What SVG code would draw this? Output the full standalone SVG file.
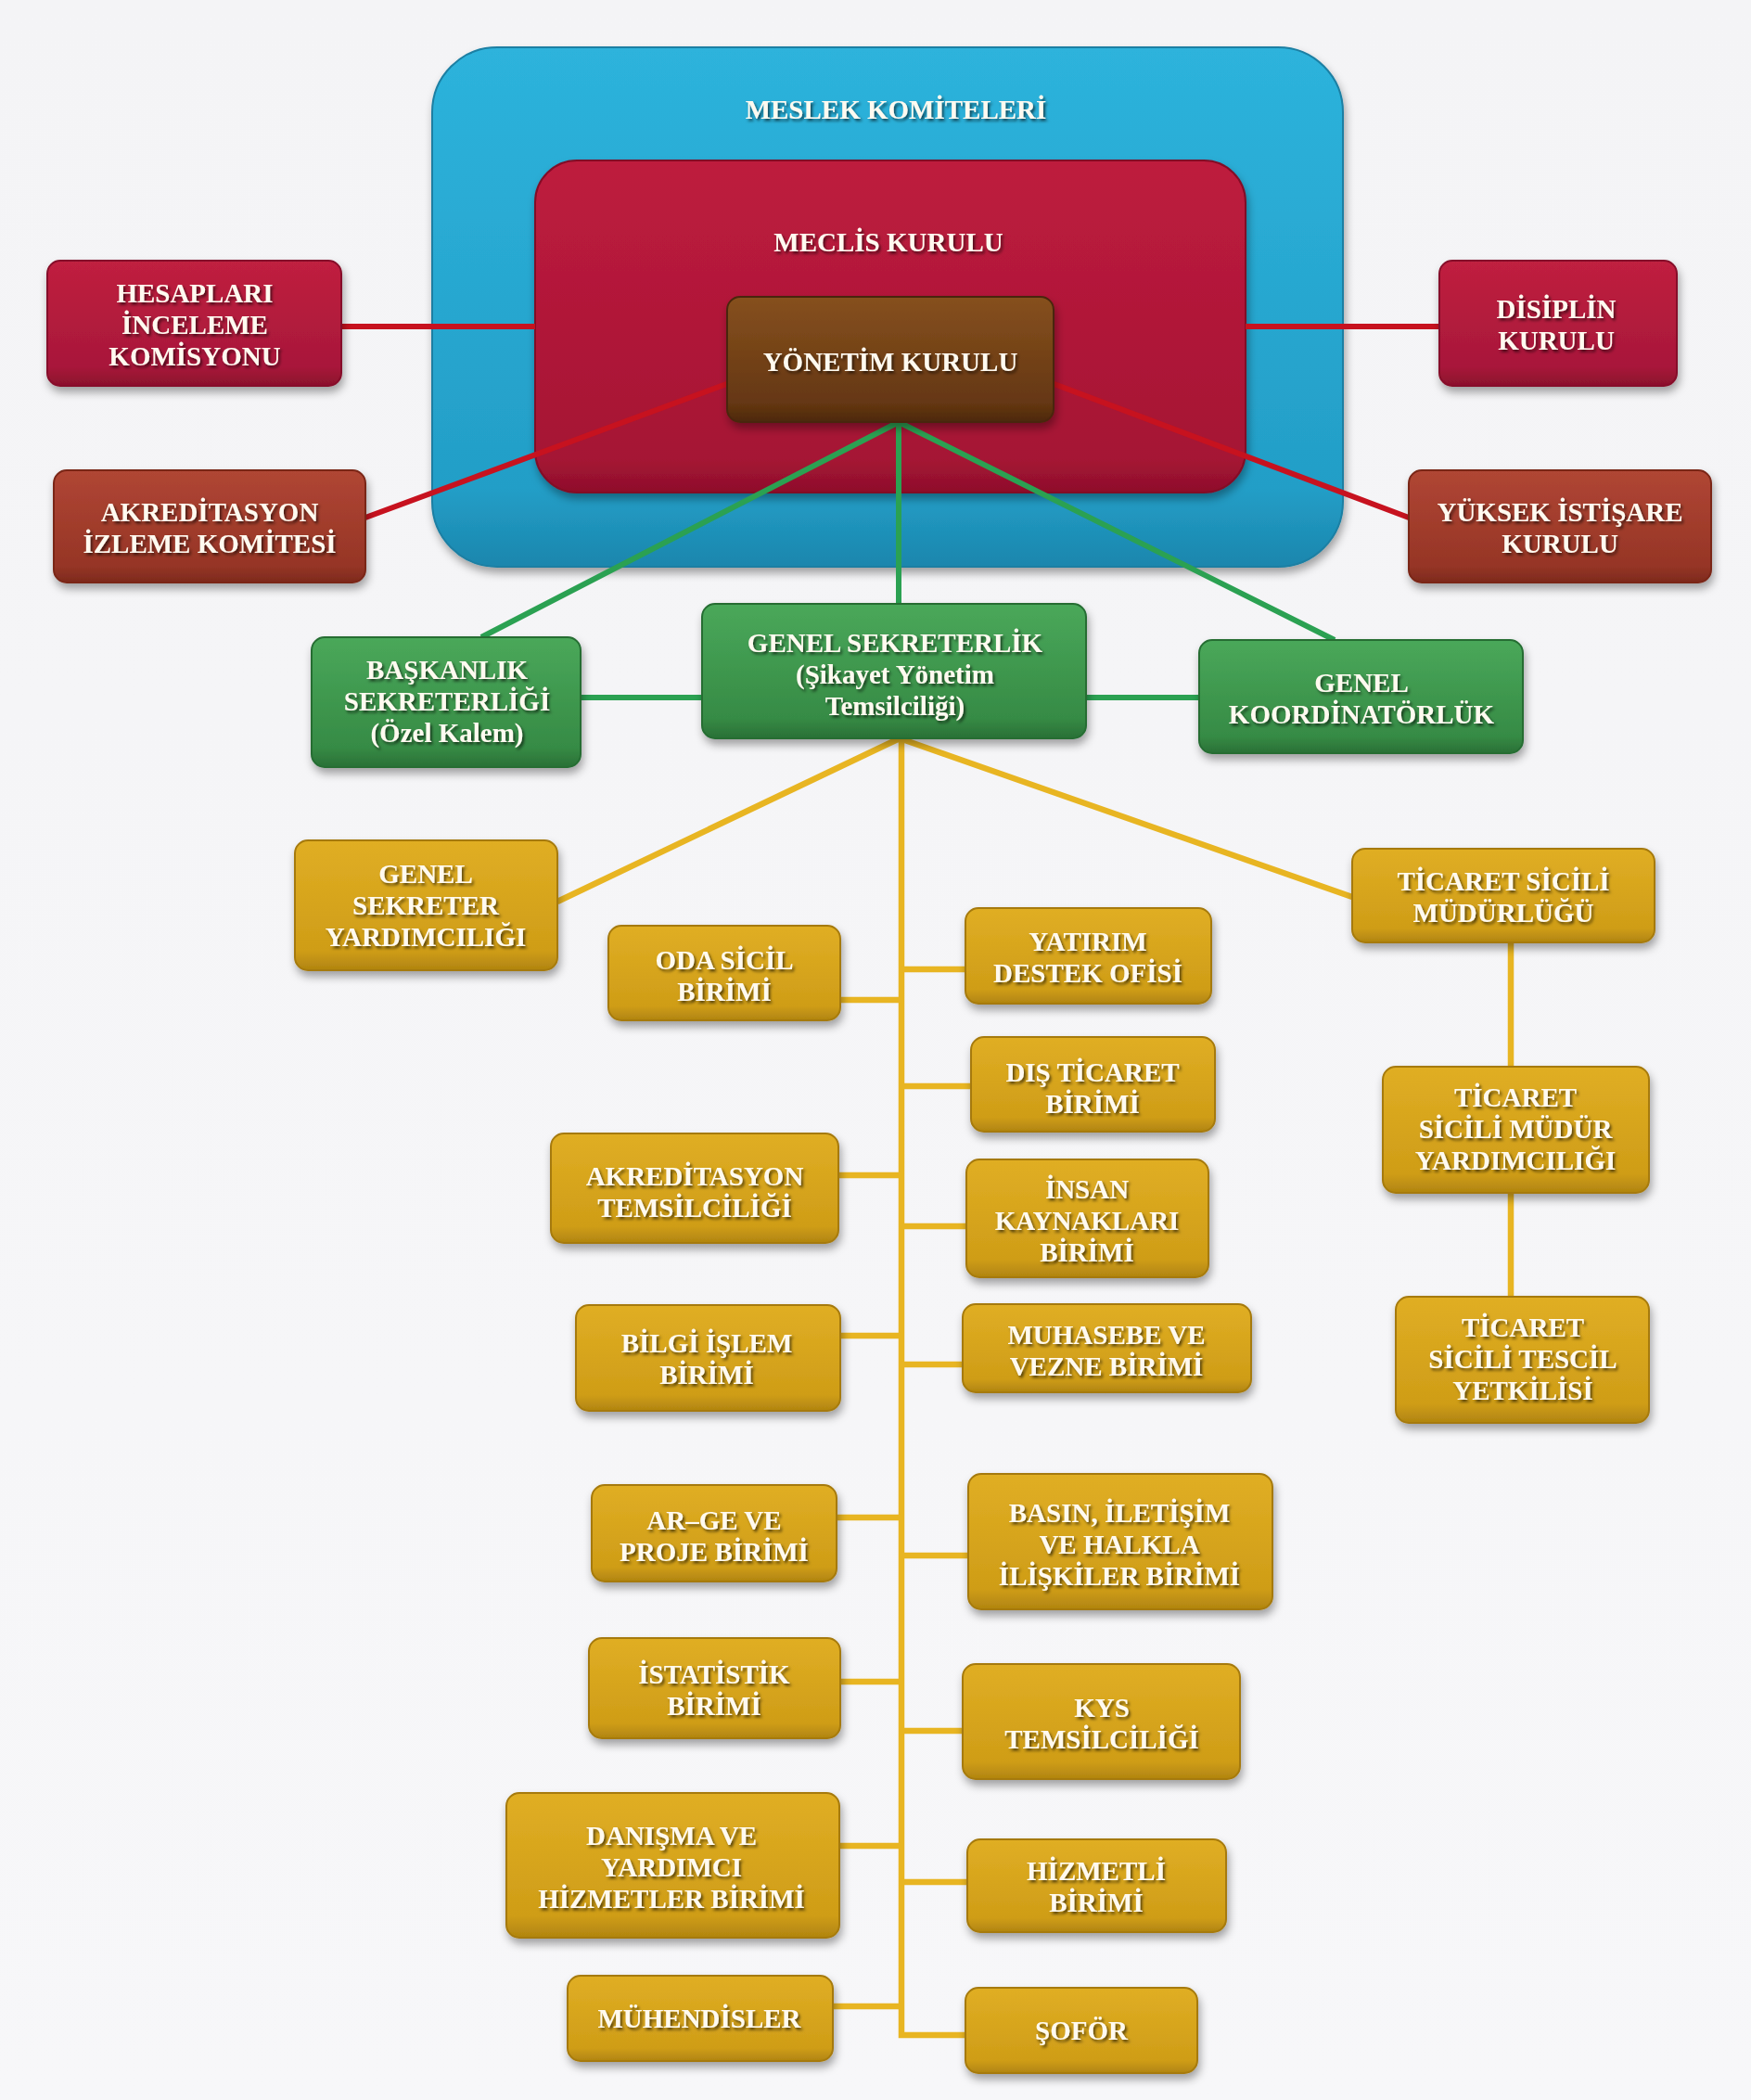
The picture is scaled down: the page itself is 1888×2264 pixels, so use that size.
<svg xmlns="http://www.w3.org/2000/svg" width="1888" height="2264" viewBox="0 0 1888 2264">
<style>
.t{font-family:"Liberation Serif","DejaVu Serif",serif;font-weight:bold;font-size:29px;fill:#fffaf0;text-anchor:middle;filter:url(#ts)}
.box{filter:url(#sh);stroke-width:2}
.y{fill:url(#gy);stroke:#a67a0c}
.g{fill:url(#gg);stroke:#256d33}
.r{fill:url(#gr);stroke:#86102a}
.rb{fill:url(#grb);stroke:#7a2618}
.cr{stroke:#c7121f;stroke-width:6;fill:none}
.cg{stroke:#2ba152;stroke-width:6;fill:none}
.cy{stroke:#e8b522;stroke-width:6.5;fill:none;stroke-linejoin:miter}
</style>
<defs>
<linearGradient id="bg" x1="0" y1="0" x2="0" y2="1"><stop offset="0" stop-color="#f4f4f6"/><stop offset="1" stop-color="#f7f7f9"/></linearGradient>
<linearGradient id="gb" x1="0" y1="0" x2="0" y2="1"><stop offset="0" stop-color="#2db3dc"/><stop offset="0.85" stop-color="#239ec7"/><stop offset="1" stop-color="#1b86ad"/></linearGradient>
<linearGradient id="gm" x1="0" y1="0" x2="0" y2="1"><stop offset="0" stop-color="#be1c3e"/><stop offset="0.9" stop-color="#a51434"/><stop offset="1" stop-color="#8e0f2b"/></linearGradient>
<linearGradient id="gbr" x1="0" y1="0" x2="0" y2="1"><stop offset="0" stop-color="#86501e"/><stop offset="0.85" stop-color="#653712"/><stop offset="1" stop-color="#4c280c"/></linearGradient>
<linearGradient id="gr" x1="0" y1="0" x2="0" y2="1"><stop offset="0" stop-color="#c0203f"/><stop offset="0.85" stop-color="#a8173a"/><stop offset="1" stop-color="#8a102c"/></linearGradient>
<linearGradient id="grb" x1="0" y1="0" x2="0" y2="1"><stop offset="0" stop-color="#b04634"/><stop offset="0.85" stop-color="#963526"/><stop offset="1" stop-color="#7d2a1d"/></linearGradient>
<linearGradient id="gg" x1="0" y1="0" x2="0" y2="1"><stop offset="0" stop-color="#4aa85a"/><stop offset="0.85" stop-color="#368b45"/><stop offset="1" stop-color="#2a7036"/></linearGradient>
<linearGradient id="gy" x1="0" y1="0" x2="0" y2="1"><stop offset="0" stop-color="#e0ae24"/><stop offset="0.85" stop-color="#cf9d17"/><stop offset="1" stop-color="#b08410"/></linearGradient>
<filter id="sh" x="-20%" y="-20%" width="140%" height="150%"><feDropShadow dx="2" dy="6" stdDeviation="5" flood-color="#000" flood-opacity="0.35"/></filter>
<filter id="ts" x="-10%" y="-30%" width="120%" height="160%"><feDropShadow dx="2" dy="2.5" stdDeviation="1.5" flood-color="#000" flood-opacity="0.6"/></filter>
</defs>
<rect width="1888" height="2264" fill="url(#bg)"/>

<g id="meslek-komiteleri">
<rect class="box" x="466" y="51" width="982" height="560" rx="70" fill="url(#gb)" stroke="#1b7fa3"/>
<text class="t" x="966" y="128">MESLEK KOMİTELERİ</text>
</g>
<g id="meclis-kurulu">
<rect class="box" x="577" y="173" width="766" height="358" rx="45" fill="url(#gm)" stroke="#820d27"/>
<text class="t" x="958" y="271">MECLİS KURULU</text>
</g>

<g id="connectors">
<path class="cr" d="M368 352H577M1343 352H1552M394 558L786 413M1134 413L1519 558"/>
<path class="cg" d="M969 455L519 687M969 455V651M969 455L1439 690M626 752H757M1171 752H1293"/>
<path class="cy" d="M970 796L601 972M970 796L1458 967M972 796V2194H1041"/>
<path class="cy" d="M906 1078H972M904 1267H972M906 1440H972M902 1636H972M906 1813H972M905 1990H972M898 2163H972"/>
<path class="cy" d="M972 1045H1041M972 1171H1047M972 1322H1042M972 1471H1038M972 1677H1044M972 1866H1038M972 2029H1043"/>
<path class="cy" d="M1629 1016V1150M1629 1286V1398"/>
</g>

<g id="yonetim-kurulu">
<rect class="box" x="784" y="320" width="352" height="135" rx="14" fill="url(#gbr)" stroke="#4a260b"/>
<text class="t" x="960" y="400">YÖNETİM KURULU</text>
</g>
<g id="hesaplari-inceleme-komisyonu">
<rect class="box r" x="51" y="281" width="317" height="135" rx="14"/>
<text class="t" x="210"><tspan x="210" y="326">HESAPLARI</tspan><tspan x="210" y="360">İNCELEME</tspan><tspan x="210" y="394">KOMİSYONU</tspan></text>
</g>
<g id="disiplin-kurulu">
<rect class="box r" x="1552" y="281" width="256" height="135" rx="14"/>
<text class="t" x="1678"><tspan x="1678" y="343">DİSİPLİN</tspan><tspan x="1678" y="377">KURULU</tspan></text>
</g>
<g id="akreditasyon-izleme-komitesi">
<rect class="box rb" x="58" y="507" width="336" height="121" rx="14"/>
<text class="t" x="226"><tspan x="226" y="562">AKREDİTASYON</tspan><tspan x="226" y="596">İZLEME KOMİTESİ</tspan></text>
</g>
<g id="yuksek-istisare-kurulu">
<rect class="box rb" x="1519" y="507" width="326" height="121" rx="14"/>
<text class="t" x="1682"><tspan x="1682" y="562">YÜKSEK İSTİŞARE</tspan><tspan x="1682" y="596">KURULU</tspan></text>
</g>

<g id="baskanlik-sekreterligi">
<rect class="box g" x="336" y="687" width="290" height="140" rx="14"/>
<text class="t" x="482"><tspan x="482" y="732">BAŞKANLIK</tspan><tspan x="482" y="766">SEKRETERLİĞİ</tspan><tspan x="482" y="800">(Özel Kalem)</tspan></text>
</g>
<g id="genel-sekreterlik">
<rect class="box g" x="757" y="651" width="414" height="145" rx="14"/>
<text class="t" x="965"><tspan x="965" y="703">GENEL SEKRETERLİK</tspan><tspan x="965" y="737">(Şikayet Yönetim</tspan><tspan x="965" y="771">Temsilciliği)</tspan></text>
</g>
<g id="genel-koordinatorluk">
<rect class="box g" x="1293" y="690" width="349" height="122" rx="14"/>
<text class="t" x="1468"><tspan x="1468" y="746">GENEL</tspan><tspan x="1468" y="780">KOORDİNATÖRLÜK</tspan></text>
</g>

<g id="genel-sekreter-yardimciligi">
<rect class="box y" x="318" y="906" width="283" height="140" rx="14"/>
<text class="t" x="459"><tspan x="459" y="952">GENEL</tspan><tspan x="459" y="986">SEKRETER</tspan><tspan x="459" y="1020">YARDIMCILIĞI</tspan></text>
</g>
<g id="ticaret-sicili-mudurlugu">
<rect class="box y" x="1458" y="915" width="326" height="101" rx="14"/>
<text class="t" x="1621"><tspan x="1621" y="960">TİCARET SİCİLİ</tspan><tspan x="1621" y="994">MÜDÜRLÜĞÜ</tspan></text>
</g>
<g id="ticaret-sicili-mudur-yardimciligi">
<rect class="box y" x="1491" y="1150" width="287" height="136" rx="14"/>
<text class="t" x="1634"><tspan x="1634" y="1193">TİCARET</tspan><tspan x="1634" y="1227">SİCİLİ MÜDÜR</tspan><tspan x="1634" y="1261">YARDIMCILIĞI</tspan></text>
</g>
<g id="ticaret-sicili-tescil-yetkilisi">
<rect class="box y" x="1505" y="1398" width="273" height="136" rx="14"/>
<text class="t" x="1642"><tspan x="1642" y="1441">TİCARET</tspan><tspan x="1642" y="1475">SİCİLİ TESCİL</tspan><tspan x="1642" y="1509">YETKİLİSİ</tspan></text>
</g>

<g id="oda-sicil-birimi">
<rect class="box y" x="656" y="998" width="250" height="102" rx="14"/>
<text class="t" x="781"><tspan x="781" y="1045">ODA SİCİL</tspan><tspan x="781" y="1079">BİRİMİ</tspan></text>
</g>
<g id="yatirim-destek-ofisi">
<rect class="box y" x="1041" y="979" width="265" height="103" rx="14"/>
<text class="t" x="1173"><tspan x="1173" y="1025">YATIRIM</tspan><tspan x="1173" y="1059">DESTEK OFİSİ</tspan></text>
</g>
<g id="dis-ticaret-birimi">
<rect class="box y" x="1047" y="1118" width="263" height="102" rx="14"/>
<text class="t" x="1178"><tspan x="1178" y="1166">DIŞ TİCARET</tspan><tspan x="1178" y="1200">BİRİMİ</tspan></text>
</g>
<g id="akreditasyon-temsilciligi">
<rect class="box y" x="594" y="1222" width="310" height="118" rx="14"/>
<text class="t" x="749"><tspan x="749" y="1278">AKREDİTASYON</tspan><tspan x="749" y="1312">TEMSİLCİLİĞİ</tspan></text>
</g>
<g id="insan-kaynaklari-birimi">
<rect class="box y" x="1042" y="1250" width="261" height="127" rx="14"/>
<text class="t" x="1172"><tspan x="1172" y="1292">İNSAN</tspan><tspan x="1172" y="1326">KAYNAKLARI</tspan><tspan x="1172" y="1360">BİRİMİ</tspan></text>
</g>
<g id="bilgi-islem-birimi">
<rect class="box y" x="621" y="1407" width="285" height="114" rx="14"/>
<text class="t" x="762"><tspan x="762" y="1458">BİLGİ İŞLEM</tspan><tspan x="762" y="1492">BİRİMİ</tspan></text>
</g>
<g id="muhasebe-ve-vezne-birimi">
<rect class="box y" x="1038" y="1406" width="311" height="95" rx="14"/>
<text class="t" x="1193"><tspan x="1193" y="1449">MUHASEBE VE</tspan><tspan x="1193" y="1483">VEZNE BİRİMİ</tspan></text>
</g>
<g id="ar-ge-ve-proje-birimi">
<rect class="box y" x="638" y="1601" width="264" height="104" rx="14"/>
<text class="t" x="770"><tspan x="770" y="1649">AR–GE VE</tspan><tspan x="770" y="1683">PROJE BİRİMİ</tspan></text>
</g>
<g id="basin-iletisim-birimi">
<rect class="box y" x="1044" y="1589" width="328" height="146" rx="14"/>
<text class="t" x="1207"><tspan x="1207" y="1641">BASIN, İLETİŞİM</tspan><tspan x="1207" y="1675">VE HALKLA</tspan><tspan x="1207" y="1709">İLİŞKİLER BİRİMİ</tspan></text>
</g>
<g id="istatistik-birimi">
<rect class="box y" x="635" y="1766" width="271" height="108" rx="14"/>
<text class="t" x="770"><tspan x="770" y="1815">İSTATİSTİK</tspan><tspan x="770" y="1849">BİRİMİ</tspan></text>
</g>
<g id="kys-temsilciligi">
<rect class="box y" x="1038" y="1794" width="299" height="124" rx="14"/>
<text class="t" x="1188"><tspan x="1188" y="1851">KYS</tspan><tspan x="1188" y="1885">TEMSİLCİLİĞİ</tspan></text>
</g>
<g id="danisma-ve-yardimci-hizmetler-birimi">
<rect class="box y" x="546" y="1933" width="359" height="156" rx="14"/>
<text class="t" x="724"><tspan x="724" y="1989">DANIŞMA VE</tspan><tspan x="724" y="2023">YARDIMCI</tspan><tspan x="724" y="2057">HİZMETLER BİRİMİ</tspan></text>
</g>
<g id="hizmetli-birimi">
<rect class="box y" x="1043" y="1983" width="279" height="100" rx="14"/>
<text class="t" x="1182"><tspan x="1182" y="2027">HİZMETLİ</tspan><tspan x="1182" y="2061">BİRİMİ</tspan></text>
</g>
<g id="muhendisler">
<rect class="box y" x="612" y="2130" width="286" height="92" rx="14"/>
<text class="t" x="754" y="2186">MÜHENDİSLER</text>
</g>
<g id="sofor">
<rect class="box y" x="1041" y="2143" width="250" height="92" rx="14"/>
<text class="t" x="1166" y="2199">ŞOFÖR</text>
</g>
</svg>
